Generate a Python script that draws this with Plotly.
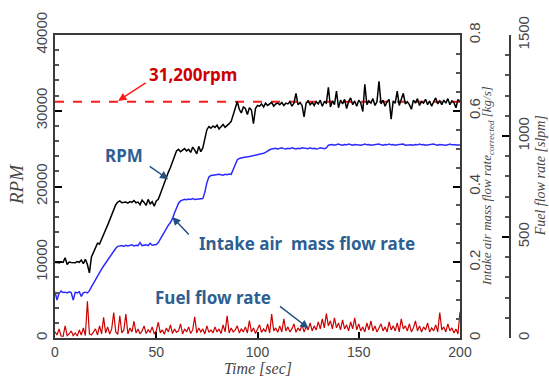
import plotly.graph_objects as go

# ---------------- data ----------------
TIME_S = list(range(201))  # 1-second samples, 0..200 s

RPM = [
    9950, 10000, 9900, 10050, 9980, 10600, 9700, 10020, 9960, 10000,
    9940, 10080, 9990, 10300, 9800, 10400, 9700, 8600, 10700, 11300,
    12000, 12500, 12400, 13100, 13700, 14300, 14900, 15600, 16200, 16900,
    17600, 17950, 18100, 17850, 17900, 17950, 17800, 18000, 17900, 18150,
    17850, 17950, 17600, 18200, 17900, 17500, 18300, 17700, 18000, 17400,
    18100, 18300, 19000, 19800, 20600, 21300, 21900, 22500, 23300, 24100,
    24700, 24900, 24600, 24800, 25000, 24700, 24900, 24500, 25200, 24800,
    24300, 25300, 24600, 25100, 26200, 27500, 27900, 27700, 28000, 27800,
    28100, 27600, 27900, 28200, 27800, 28000, 28300, 28600, 29400, 30100,
    31200, 30200, 29700, 30500, 30300, 29500, 30400, 30100, 28300, 30300,
    30700, 30600, 30900, 30500, 31000, 30700, 30900, 31100, 30600, 30900,
    31000, 30800, 31100, 30700, 31000, 30900, 31200, 30600, 31000, 32300,
    30800, 31100, 30700, 29200, 31000, 31300, 30800, 31100, 30700, 31200,
    30900, 31400, 30600, 31200, 31000, 33100, 30500, 31300, 30800, 32600,
    30400, 31400, 30900, 31500, 30300, 31200, 31700, 30800, 31300, 30600,
    31400, 31000, 29900, 33500, 30800, 31300, 31000, 31600, 30700, 31200,
    33900, 30900, 31400, 30600, 31200, 31500, 28900, 31300, 31000, 32600,
    30700, 31400, 32300, 30900, 31200, 30800, 30200, 31400, 31000, 31600,
    30700, 31200, 31000, 31500, 30800, 31300, 30600, 31200, 31700, 30900,
    31300, 30800, 31400, 31000, 31600, 30800, 31300, 31100, 30400, 31500,
    31200,
]

AIR_KGS = [
    0.122, 0.100, 0.118, 0.124, 0.120, 0.121, 0.119, 0.122, 0.120, 0.100,
    0.121, 0.119, 0.122, 0.110, 0.120, 0.121, 0.119, 0.125, 0.135, 0.145,
    0.155, 0.165, 0.173, 0.182, 0.190, 0.198, 0.207, 0.215, 0.222, 0.230,
    0.237, 0.242, 0.243, 0.244, 0.242, 0.245, 0.243, 0.244, 0.246, 0.243,
    0.245, 0.244, 0.252, 0.244, 0.245, 0.246, 0.244, 0.250, 0.245, 0.246,
    0.247, 0.252, 0.262, 0.272, 0.281, 0.290, 0.298, 0.305, 0.315, 0.330,
    0.345, 0.356, 0.362, 0.365, 0.366, 0.365, 0.367, 0.366, 0.368, 0.366,
    0.367, 0.368, 0.367, 0.368, 0.385, 0.410, 0.425, 0.429, 0.430, 0.431,
    0.430, 0.432, 0.431, 0.430, 0.432, 0.431, 0.433, 0.432, 0.445, 0.460,
    0.470, 0.474, 0.476, 0.477, 0.478, 0.478, 0.479, 0.480, 0.481, 0.482,
    0.484, 0.486, 0.487, 0.488, 0.490, 0.494, 0.497, 0.499, 0.500, 0.501,
    0.499, 0.500, 0.502, 0.500, 0.499, 0.501, 0.500, 0.502, 0.500, 0.499,
    0.501, 0.500, 0.502, 0.501, 0.499, 0.500, 0.502, 0.500, 0.501, 0.499,
    0.500, 0.502, 0.501, 0.500, 0.502, 0.509, 0.510, 0.511, 0.509, 0.510,
    0.512, 0.510, 0.509, 0.511, 0.510, 0.512, 0.510, 0.509, 0.511, 0.510,
    0.511, 0.509, 0.510, 0.512, 0.510, 0.511, 0.509, 0.510, 0.511, 0.510,
    0.512, 0.510, 0.509, 0.511, 0.510, 0.512, 0.510, 0.511, 0.509, 0.510,
    0.511, 0.510, 0.512, 0.509, 0.510, 0.511, 0.510, 0.509, 0.511, 0.510,
    0.512, 0.510, 0.511, 0.509, 0.510, 0.511, 0.510, 0.512, 0.510, 0.509,
    0.511, 0.510, 0.511, 0.509, 0.510, 0.512, 0.510, 0.511, 0.510, 0.509,
    0.510,
]

FUEL_SLPM = [
    30, 15, 45, 10, 8, 60, 12, 20, 35, 12, 25, 10, 40, 15, 50, 12, 182, 20, 15, 30,
    45, 15, 60, 20, 102, 25, 55, 20, 45, 126, 30, 18, 110, 25, 40, 118, 20, 50, 30, 83,
    25, 45, 20, 35, 60, 22, 40, 28, 55, 20, 35, 78, 25, 40, 18, 50, 30, 65, 22, 45,
    28, 35, 70, 20, 45, 30, 55, 22, 40, 105, 25, 50, 30, 45, 20, 60, 28, 40, 25, 55,
    30, 45, 22, 65, 30, 110, 25, 50, 30, 40, 60, 25, 45, 30, 55, 25, 86, 30, 50, 22,
    40, 65, 28, 45, 30, 70, 25, 118, 35, 50, 28, 60, 30, 95, 35, 55, 30, 45, 70, 28,
    50, 35, 65, 30, 55, 40, 75, 35, 60, 40, 80, 45, 95, 50, 121, 60, 85, 45, 100, 50,
    75, 40, 90, 45, 65, 35, 80, 45, 100, 40, 70, 35, 55, 30, 75, 40, 85, 35, 60, 30,
    50, 70, 35, 55, 30, 80, 40, 60, 35, 75, 30, 95, 45, 60, 35, 70, 30, 50, 85, 35,
    60, 30, 55, 40, 75, 30, 50, 35, 65, 30, 126, 40, 55, 30, 70, 35, 50, 25, 45, 20,
    130,
]

TARGET_RPM = 31200
TARGET_LABEL = "31,200rpm"

X_TICKS = [0, 50, 100, 150, 200]
RPM_TICKS = [0, 10000, 20000, 30000, 40000]
AIR_TICKS = [0, 0.2, 0.4, 0.6, 0.8]
FUEL_TICKS = [0, 500, 1000, 1500]

# ---------------- figure ----------------
W, H = 549, 379
ML, MR, MT, MB = 55, 30, 25, 41
plot_w = W - ML - MR           # 464
x_dom_end = 405 / plot_w       # main box right edge at 460 px
fuel_pos = 455 / plot_w        # fuel axis at ~510 px

def px2paper_x(px):
    return (px - ML) / plot_w

def px2paper_y(py):
    return (H - MB - py) / (H - MT - MB)

AX_COL = "#3a3a3a"
TXT_COL = "#474747"
TICK_FONT = dict(family="Liberation Sans, Arial", size=15, color=TXT_COL)
LABEL_BLUE = "#2e5f92"
ARROW_BLUE = "#22507f"

fig = go.Figure()

fig.add_trace(go.Scatter(x=TIME_S, y=FUEL_SLPM, yaxis="y3", mode="lines",
                         line=dict(color="#cc0000", width=1.2), name="Fuel"))
fig.add_trace(go.Scatter(x=TIME_S, y=AIR_KGS, yaxis="y2", mode="lines",
                         line=dict(color="#2b2bff", width=1.5), name="Air"))
fig.add_trace(go.Scatter(x=TIME_S, y=RPM, yaxis="y", mode="lines",
                         line=dict(color="#000000", width=1.5), name="RPM"))

fig.add_hline(y=TARGET_RPM, line=dict(color="#ff1a1a", width=2, dash="dash"),
              layer="below")

common_axis = dict(showline=True, linecolor=AX_COL, linewidth=1.5, showgrid=False,
                   zeroline=False, ticks="inside", tickcolor="#000000",
                   tickfont=TICK_FONT)

fig.update_layout(
    width=W, height=H,
    margin=dict(l=ML, r=MR, t=MT, b=MB),
    paper_bgcolor="white", plot_bgcolor="white",
    showlegend=False,
    xaxis=dict(domain=[0, x_dom_end], range=[0, 200], tickvals=X_TICKS,
               ticklen=6, tickwidth=2, mirror=True,
               showline=True, linecolor=AX_COL, linewidth=1.5, showgrid=False,
               zeroline=False, ticks="inside", tickcolor="#000000",
               tickfont=dict(family="Liberation Sans, Arial", size=14, color=TXT_COL)),
    yaxis=dict(range=[0, 40000], tickvals=RPM_TICKS, tickformat="d",
               tickangle=-90, ticklen=7, tickwidth=2, mirror=True,
               minor=dict(dtick=2000, ticks="inside", ticklen=4, tickcolor="#555555"),
               **common_axis),
    yaxis2=dict(range=[0, 0.8], tickvals=AIR_TICKS, overlaying="y", side="right",
                anchor="x", tickangle=-90, ticklen=7, tickwidth=2,
                minor=dict(dtick=0.05, ticks="inside", ticklen=4, tickcolor="#555555"),
                **common_axis),
    yaxis3=dict(range=[0, 1500], tickvals=FUEL_TICKS, overlaying="y", side="right",
                anchor="free", position=fuel_pos, tickangle=-90, ticklen=7,
                tickwidth=2,
                minor=dict(dtick=100, ticks="inside", ticklen=4, tickcolor="#555555"),
                **common_axis),
)

title_font = dict(family="Liberation Serif, Times New Roman", color=TXT_COL)
C = dict(xanchor="center", yanchor="middle", xref="paper", yref="paper",
         showarrow=False)
ann = []
ann.append(dict(text="<i>RPM</i>", x=px2paper_x(16), y=px2paper_y(180),
                textangle=-90, font=dict(size=19, **title_font), **C))
ann.append(dict(text="<i>Time [sec]</i>", x=px2paper_x(258), y=px2paper_y(369),
                font=dict(size=16, **title_font), **C))
ann.append(dict(text="<i>Intake air mass flow rate<sub>corrected</sub> [kg/s]</i>",
                x=px2paper_x(487), y=px2paper_y(181),
                textangle=-90, font=dict(size=13, **title_font), **C))
ann.append(dict(text="<i>Fuel flow rate [slpm]</i>", x=px2paper_x(540),
                y=px2paper_y(171),
                textangle=-90, font=dict(size=14, **title_font), **C))

lab_font = dict(family="Noto Sans", size=17)
D = dict(xanchor="center", yanchor="middle", xref="x", yref="y", showarrow=False)
# text labels (positions in data coordinates of time / RPM)
ann.append(dict(text="<b>" + TARGET_LABEL + "</b>", x=68, y=34820,
                font=dict(color="#cc0000", **lab_font), **D))
ann.append(dict(text="<b>RPM</b>", x=34.2, y=24090,
                font=dict(color=LABEL_BLUE, **lab_font), **D))
ann.append(dict(text="<b>Intake air  mass flow rate</b>", x=124.5, y=12450,
                font=dict(color=LABEL_BLUE, **lab_font), **D))
ann.append(dict(text="<b>Fuel flow rate</b>", x=78, y=5300,
                font=dict(color=LABEL_BLUE, **lab_font), **D))

# arrows
def arrow(xh, yh, ax, ay, color):
    return dict(text="", x=xh, y=yh, xref="x", yref="y", ax=ax, ay=ay,
                showarrow=True, arrowhead=2, arrowsize=1.1, arrowwidth=1.5,
                arrowcolor=color)

ann.append(arrow(31.2, 31300, 29, -19, "#ff1a1a"))
ann.append(arrow(55.9, 20960, -20, -14, ARROW_BLUE))
ann.append(arrow(57.9, 15970, 18, 19, ARROW_BLUE))
ann.append(arrow(125.2, 1280, -30, -23, ARROW_BLUE))

fig.update_layout(annotations=ann)

fig.write_html("out.html")
